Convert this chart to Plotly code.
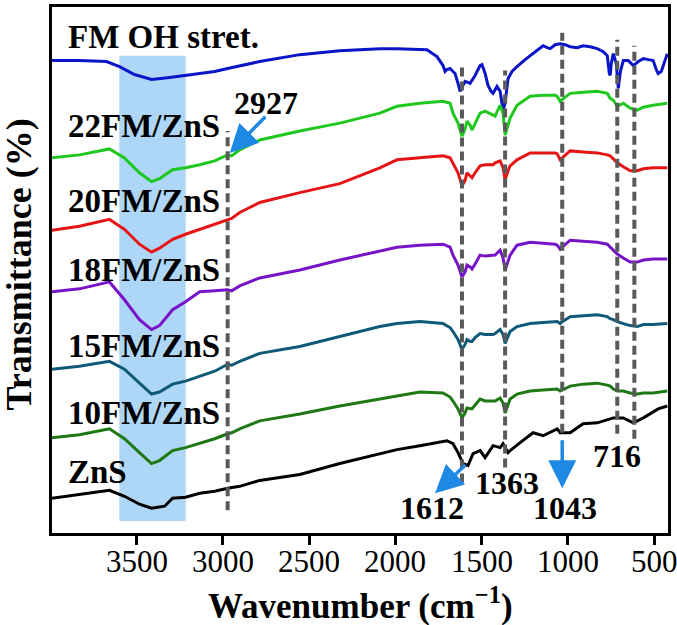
import plotly.graph_objects as go

# ---------------- data (wavenumber cm-1, offset transmittance a.u.) ----------------
fm_wn = [3990, 3831, 3674, 3599, 3512, 3413, 3308, 3216, 3134, 3047, 2972, 2786, 2554, 2322, 2090,
         1991, 1817, 1759, 1724, 1712, 1701, 1683, 1666, 1654, 1637, 1625, 1614, 1596, 1579, 1567,
         1538, 1509, 1498, 1480, 1463, 1445, 1434, 1411, 1393, 1376, 1364, 1347, 1324, 1295, 1248,
         1219, 1178, 1144, 1120, 1103, 1074, 1045, 1016, 987, 946, 912, 871, 830, 795, 772, 760,
         755, 749, 737, 720, 708, 696, 679, 650, 621, 592, 563, 534, 506, 488, 477, 459, 442, 424]
fm_px = [57, 57, 58, 63, 71, 76, 74, 72, 70, 68, 65, 58, 51, 47, 45,
         45, 46, 53, 62, 68, 66, 65, 68, 70, 80, 88, 84, 78, 79, 80,
         72, 62, 61, 70, 82, 88, 90, 83, 88, 107, 100, 75, 68, 63, 56,
         52, 46, 42, 44, 45, 41, 40, 41, 43, 44, 42, 43, 45, 48, 52, 70,
         72, 60, 50, 60, 85, 68, 57, 57, 62, 58, 55, 56, 57, 66, 70, 68, 60, 50]

grid_wn = [3990, 3831, 3657, 3570, 3483, 3413, 3367, 3291, 3216, 3134, 3047, 2972, 2949, 2902, 2786,
           2554, 2322, 2090, 1991, 1858, 1724, 1683, 1666, 1637, 1614, 1596, 1585, 1567, 1556, 1538,
           1509, 1480, 1434, 1422, 1393, 1376, 1364, 1347, 1335, 1295, 1219, 1144, 1074, 1062, 1045,
           1033, 987, 912, 830, 772, 755, 737, 714, 679, 639, 598, 563, 506, 424]
fm22_px = [155, 152, 146, 155, 170, 179, 176, 167, 165, 162, 158, 152, 153, 147, 137,
           128, 120, 110, 103, 100, 98, 100, 110, 120, 133, 126, 118, 122, 127, 120,
           110, 108, 112, 113, 102, 110, 132, 122, 115, 102, 93, 92, 92, 93, 98,
           96, 90, 89, 88, 90, 95, 97, 103, 100, 105, 107, 104, 102, 100]
fm20_px = [228, 224, 217, 227, 242, 250, 246, 237, 232, 227, 222, 217, 216, 210, 200,
           190, 181, 165, 157, 155, 153, 155, 160, 170, 183, 178, 170, 173, 175, 170,
           163, 162, 162, 160, 158, 165, 177, 168, 163, 157, 150, 150, 150, 151, 157,
           155, 148, 149, 150, 152, 153, 156, 160, 164, 168, 168, 166, 165, 165]
fm18_px = [290, 287, 280, 298, 318, 328, 324, 308, 300, 290, 289, 288, 289, 284, 276,
           268, 258, 249, 245, 243, 242, 245, 253, 263, 275, 270, 263, 265, 267, 262,
           253, 254, 253, 253, 248, 256, 268, 258, 253, 243, 240, 241, 242, 243, 247,
           245, 238, 239, 240, 242, 245, 248, 252, 256, 260, 260, 258, 257, 257]
fm15_px = [368, 365, 360, 368, 382, 393, 391, 383, 380, 375, 370, 363, 364, 360, 352,
           345, 335, 325, 322, 320, 322, 326, 330, 338, 348, 343, 338, 340, 340, 336,
           332, 333, 333, 332, 328, 333, 342, 335, 330, 325, 322, 321, 320, 320, 322,
           320, 315, 314, 313, 315, 317, 318, 320, 322, 324, 325, 323, 323, 322]
fm10_px = [437, 434, 428, 438, 452, 463, 460, 450, 447, 443, 438, 433, 432, 428, 420,
           413, 405, 398, 395, 391, 392, 396, 400, 408, 417, 412, 407, 408, 408, 404,
           398, 400, 400, 400, 397, 402, 412, 404, 398, 393, 390, 389, 388, 388, 390,
           389, 385, 383, 382, 384, 385, 388, 390, 390, 392, 393, 392, 392, 390]

zns_wn = [3990, 3831, 3657, 3570, 3483, 3413, 3337, 3291, 3216, 3134, 3047, 2972, 2902, 2786, 2554,
          2322, 2090, 1991, 1858, 1724, 1701, 1666, 1637, 1608, 1579, 1550, 1509, 1480, 1434, 1393,
          1376, 1347, 1335, 1277, 1202, 1144, 1062, 1045, 987, 912, 830, 737, 679, 621, 563, 477, 424]
zns_px = [498, 494, 490, 496, 504, 508, 506, 498, 497, 493, 491, 488, 486, 480, 474,
          463, 453, 449, 445, 441, 440, 443, 452, 463, 465, 453, 450, 457, 445, 447,
          443, 452, 450, 442, 432, 435, 428, 432, 432, 423, 422, 417, 417, 422, 417, 408, 405]

series_names = ["FM OH stret.", "22FM/ZnS", "20FM/ZnS", "18FM/ZnS", "15FM/ZnS", "10FM/ZnS", "ZnS"]
series_colors = ["#0a14c8", "#1ec81e", "#e61414", "#7814c8", "#0f5a78", "#1e7814", "#000000"]
label_y = [500, 410, 335, 265, 188, 121, 61]

PLOT_TOP = 533  # offset baseline used to express the curves

def to_val(px):
    return [PLOT_TOP - p for p in px]

series_x = [fm_wn, grid_wn, grid_wn, grid_wn, grid_wn, grid_wn, zns_wn]
series_y = [to_val(fm_px), to_val(fm22_px), to_val(fm20_px), to_val(fm18_px),
            to_val(fm15_px), to_val(fm10_px), to_val(zns_px)]

# dashed marker lines: position, y-bottom, y-top
peak_wn = [2972, 1614, 1364, 1033, 714, 615]
peak_y0 = [23, 51, 66, 101, 100, 95]
peak_y1 = [405, 473, 466, 504, 497, 491]

band_x = [3600, 3215]
band_y = [12, 481]

peak_labels = ["2927", "1612", "1363", "1043", "716"]
peak_label_x = [2751, 1788, 1353, 1016, 714]
peak_label_y = [433, 25, 50, 25, 78]

# arrows: tail (ax, ay) -> head (x, y)
arrow_tail_x = [2745, 1585, 1033]
arrow_tail_y = [421, 70, 95]
arrow_head_x = [2960, 1770, 1033]
arrow_head_y = [383, 40, 45]

xticks = [3500, 3000, 2500, 2000, 1500, 1000, 500]
xtick_labels = ["3500", "3000", "2500", "2000", "1500", "1000", "500"]

# ---------------- figure ----------------
fig = go.Figure()
SERIF = "Liberation Serif, Times New Roman, serif"

fig.add_shape(type="rect", xref="x", yref="y", x0=band_x[0], x1=band_x[1],
              y0=band_y[0], y1=band_y[1], fillcolor="#aed6f6", line_width=0, layer="below")

for x, y, name, col in zip(series_x, series_y, series_names, series_colors):
    fig.add_trace(go.Scatter(x=x, y=y, mode="lines", name=name,
                             line=dict(color=col, width=3), showlegend=False))

for wn, y0, y1 in zip(peak_wn, peak_y0, peak_y1):
    fig.add_trace(go.Scatter(x=[wn, wn], y=[y0, y1], mode="lines", showlegend=False,
                             line=dict(color="#5a5a5a", width=4, dash="9px,5px"),
                             hoverinfo="skip"))

for name, y in zip(series_names, label_y):
    fig.add_annotation(x=3906, y=y, text=f"<b>{name}</b>", showarrow=False,
                       xanchor="left", yanchor="middle",
                       font=dict(family=SERIF, size=33, color="black"))

for t, x, y in zip(peak_labels, peak_label_x, peak_label_y):
    fig.add_annotation(x=x, y=y, text=f"<b>{t}</b>", showarrow=False,
                       xanchor="center", yanchor="middle",
                       font=dict(family=SERIF, size=32, color="black"))

for tx, ty, hx, hy in zip(arrow_tail_x, arrow_tail_y, arrow_head_x, arrow_head_y):
    fig.add_annotation(x=hx, y=hy, ax=tx, ay=ty, axref="x", ayref="y", xref="x", yref="y",
                       text="", showarrow=True, arrowhead=2, arrowsize=1.6,
                       arrowwidth=3.5, arrowcolor="#1e88e5")

# x tick labels (placed at the tick values)
for v, lab in zip(xticks, xtick_labels):
    fig.add_annotation(x=v, xref="x", yref="paper", y=-0.055, text=lab, showarrow=False,
                       xanchor="center", yanchor="middle",
                       font=dict(family=SERIF, size=31, color="black"))

fig.add_annotation(xref="paper", yref="paper", x=0.5, y=-0.134,
                   text="<b>Wavenumber (cm<sup>−1</sup>)</b>", showarrow=False,
                   xanchor="center", yanchor="middle",
                   font=dict(family=SERIF, size=35, color="black"))
fig.add_annotation(xref="paper", yref="paper", x=-0.053, y=0.511,
                   text="<b>Transmittance (%)</b>", showarrow=False, textangle=-90,
                   xanchor="center", yanchor="middle",
                   font=dict(family=SERIF, size=36, color="black"))

fig.update_xaxes(range=[3990, 420], tickvals=xticks, showticklabels=False,
                 ticks="outside", ticklen=9, tickwidth=3, tickcolor="black",
                 showline=True, linewidth=3, linecolor="black", mirror=True,
                 showgrid=False, zeroline=False)
fig.update_yaxes(range=[0, 530], showticklabels=False, ticks="",
                 showline=True, linewidth=3, linecolor="black", mirror=True,
                 showgrid=False, zeroline=False)

fig.update_layout(width=677, height=625, margin=dict(l=52, r=9, t=4, b=92),
                  font=dict(family=SERIF, color="black"),
                  plot_bgcolor="white", paper_bgcolor="white", showlegend=False)

fig.write_html("out.html", config={"displayModeBar": False},
               post_script="document.body.style.margin='0px';document.body.style.overflow='hidden';")
